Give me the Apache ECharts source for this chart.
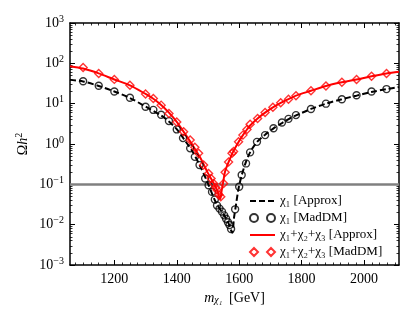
<!DOCTYPE html>
<html>
<head>
<meta charset="utf-8">
<script src="https://cdn.jsdelivr.net/npm/echarts@6/dist/echarts.min.js"></script>
<style>
html, body { margin: 0; padding: 0; background: #fff; }
#chart { width: 415px; height: 323px; }
</style>
</head>
<body>
<div id="chart"></div>
<script>
// chi1 only, approximate calculation (dashed black)
var blackApproxX = [1058, 1100, 1150, 1200, 1250, 1300, 1350, 1375, 1400, 1425, 1450, 1475, 1500, 1525, 1550, 1565, 1578,
    1583, 1590, 1598, 1608, 1620, 1635, 1657, 1683, 1710, 1737, 1760, 1782, 1830, 1878, 1929, 1976, 2024, 2072, 2112];
var blackApproxY = [38.9, 35.5, 27.5, 20.0, 13.8, 8.5, 5.1, 3.6, 2.34, 1.26, 0.66, 0.28, 0.105, 0.036, 0.018, 0.0112, 0.0063,
    0.014, 0.032, 0.079, 0.166, 0.33, 0.62, 1.12, 1.7, 2.45, 3.3, 4.2, 5.1, 7.4, 10, 12.9, 15.8, 19.5, 22.9, 25.7];

// chi1 only, MadDM (open circles)
var blackMadX = [1100, 1150, 1200, 1250, 1300, 1325, 1350, 1375, 1400, 1420, 1443, 1458, 1473, 1491, 1502, 1513, 1522, 1529,
    1537, 1545, 1552, 1558, 1564, 1569, 1574, 1587, 1600, 1608, 1622, 1635, 1657, 1683, 1710, 1737, 1758, 1782, 1830, 1878,
    1929, 1976, 2024, 2072];
var blackMadY = [36, 27.9, 20, 14, 8.4, 7.0, 5.3, 3.7, 2.3, 1.4, 0.78, 0.48, 0.30, 0.14, 0.095, 0.065, 0.042, 0.030,
    0.025, 0.021, 0.017, 0.014, 0.0115, 0.0098, 0.0078, 0.024, 0.087, 0.17, 0.33, 0.62, 1.13, 1.66, 2.45, 3.4, 4.2, 5.2, 7.4, 10,
    12.9, 16.2, 20, 23];

// chi1+chi2+chi3, approximate calculation (solid red)
var redApproxX = [1058, 1100, 1150, 1200, 1250, 1300, 1325, 1350, 1375, 1400, 1425, 1450, 1475, 1500, 1520, 1530, 1539,
    1544, 1548, 1555, 1566, 1580, 1598, 1612, 1625, 1635, 1659, 1683, 1708, 1733, 1758, 1782, 1830, 1878, 1929, 1976, 2024,
    2072, 2112];
var redApproxY = [85.1, 74.1, 56.2, 39.8, 28.5, 17.4, 13.2, 9.3, 6.0, 3.55, 1.86, 0.95, 0.46, 0.19, 0.1, 0.069, 0.043,
    0.071, 0.105, 0.21, 0.355, 0.63, 1.12, 1.66, 2.29, 2.88, 4.3, 6.0, 8.1, 10.5, 12.9, 15.8, 20.9, 27.5, 33.9, 39.8, 47.9,
    56.2, 61.7];

// chi1+chi2+chi3, MadDM (open diamonds)
var redMadX = [1100, 1150, 1200, 1250, 1300, 1325, 1350, 1375, 1400, 1422, 1443, 1458, 1470, 1486, 1502, 1510, 1518, 1525,
    1529, 1535, 1541, 1550, 1555, 1566, 1577, 1582, 1598, 1612, 1625, 1635, 1659, 1683, 1708, 1733, 1758, 1782, 1830, 1878,
    1929, 1976, 2024, 2072];
var redMadY = [79, 56, 40, 28.5, 17.4, 13.5, 9.2, 5.7, 3.5, 2.0, 1.26, 0.83, 0.59, 0.30, 0.186, 0.14, 0.105, 0.083,
    0.072, 0.055, 0.049, 0.105, 0.2, 0.36, 0.59, 0.65, 1.13, 1.66, 2.29, 3.1, 4.3, 6.0, 8.1, 10.5, 12.9, 15.8, 20.9, 27.5,
    33.9, 39.8, 47.9, 56.2];

var relicValue = 0.1;
var xTickLabels = [1200, 1400, 1600, 1800, 2000];
var yExponents = [-3, -2, -1, 0, 1, 2, 3];

var legendNames = ['χ₁ [Approx]', 'χ₁ [MadDM]', 'χ₁+χ₂+χ₃ [Approx]', 'χ₁+χ₂+χ₃ [MadDM]'];

function pairs(xs, ys) {
    return xs.map(function (x, i) { return [x, ys[i]]; });
}

// minor tick positions
var xMinor = [];
for (var v = 1075; v <= 2100; v += 25) {
    if (v % 200 !== 0) xMinor.push(v);
}
var yMinor = [];
for (var k = -3; k < 3; k++) {
    for (var m = 2; m <= 9; m++) yMinor.push(k + Math.log10(m));
}

var FONT = 'Liberation Serif';
var XMIN = 1058, XMAX = 2112;

function supLabel(v) {
    var e = Math.round(v);
    return '{b|10}{s|' + (e < 0 ? '\u2212' + (-e) : e) + '}';
}

function xAx(opt) {
    return Object.assign({
        type: 'value', min: XMIN, max: XMAX,
        axisLine: { show: false, onZero: false },
        axisLabel: { show: false },
        splitLine: { show: false },
        axisTick: { show: false }
    }, opt);
}
function yAx(opt) {
    return Object.assign({
        type: 'value', min: -3, max: 3,
        axisLine: { show: false, onZero: false },
        axisLabel: { show: false },
        splitLine: { show: false },
        axisTick: { show: false }
    }, opt);
}

var chart = echarts.init(document.getElementById('chart'), null, { renderer: 'canvas' });

var option = {
    backgroundColor: '#fff',
    animation: false,
    textStyle: { fontFamily: FONT, color: '#000' },
    grid: { left: 70, right: 16, top: 23, bottom: 58, outerBoundsMode: 'none', show: false },
    xAxis: [
        xAx({
            position: 'bottom',
            axisLine: { show: true, onZero: false, lineStyle: { color: '#000', width: 1.5 } },
            axisTick: { show: true, inside: true, length: 5, customValues: xTickLabels, lineStyle: { color: '#000', width: 1 } },
            axisLabel: {
                show: true, customValues: xTickLabels, margin: 7, fontSize: 14, fontFamily: FONT, color: '#000',
                formatter: function (val) { return String(val); }
            },
            name: '{i|m}{sub|χ₁}  [GeV]',
            nameLocation: 'middle',
            nameGap: 26,
            nameMoveOverlap: false,
            nameTextStyle: {
                fontFamily: FONT, fontSize: 14, color: '#000',
                rich: {
                    i: { fontFamily: FONT, fontStyle: 'italic', fontSize: 14 },
                    sub: { fontFamily: FONT, fontStyle: 'italic', fontSize: 10, verticalAlign: 'bottom' }
                }
            }
        }),
        xAx({ position: 'bottom', axisTick: { show: true, inside: true, length: 2.5, customValues: xMinor, lineStyle: { color: '#000', width: 0.8 } } }),
        xAx({
            position: 'top',
            axisLine: { show: true, onZero: false, lineStyle: { color: '#000', width: 1.5 } },
            axisTick: { show: true, inside: true, length: 5, customValues: xTickLabels, lineStyle: { color: '#000', width: 1 } }
        }),
        xAx({ position: 'top', axisTick: { show: true, inside: true, length: 2.5, customValues: xMinor, lineStyle: { color: '#000', width: 0.8 } } })
    ],
    yAxis: [
        {
            type: 'log', min: 0.001, max: 1000, logBase: 10,
            position: 'left',
            axisLine: { show: false, onZero: false },
            axisLabel: { show: false },
            axisTick: { show: false },
            splitLine: { show: false }
        },
        yAx({
            position: 'left',
            axisLine: { show: true, onZero: false, lineStyle: { color: '#000', width: 1.5 } },
            axisTick: { show: true, inside: true, length: 5, customValues: yExponents, lineStyle: { color: '#000', width: 1 } },
            axisLabel: {
                show: true, customValues: yExponents, margin: 6, formatter: supLabel,
                rich: {
                    b: { fontFamily: FONT, fontSize: 14, color: '#000', lineHeight: 18 },
                    s: { fontFamily: FONT, fontSize: 10, color: '#000', verticalAlign: 'top' }
                }
            },
            name: 'Ω{i|h}{s|2}',
            nameLocation: 'middle',
            nameGap: 38,
            nameMoveOverlap: false,
            nameTextStyle: {
                fontFamily: FONT, fontSize: 14, color: '#000', lineHeight: 18,
                rich: {
                    i: { fontFamily: FONT, fontStyle: 'italic', fontSize: 14, lineHeight: 18 },
                    s: { fontFamily: FONT, fontSize: 10, verticalAlign: 'top' }
                }
            }
        }),
        yAx({ position: 'left', axisTick: { show: true, inside: true, length: 2.5, customValues: yMinor, lineStyle: { color: '#000', width: 0.8 } } }),
        yAx({
            position: 'right',
            axisLine: { show: true, onZero: false, lineStyle: { color: '#000', width: 1.5 } },
            axisTick: { show: true, inside: true, length: 5, customValues: yExponents, lineStyle: { color: '#000', width: 1 } }
        }),
        yAx({ position: 'right', axisTick: { show: true, inside: true, length: 2.5, customValues: yMinor, lineStyle: { color: '#000', width: 0.8 } } })
    ],
    legend: {
        orient: 'vertical',
        left: 249,
        top: 193,
        padding: 0,
        itemWidth: 25,
        itemHeight: 8,
        itemGap: 1,
        selectedMode: false,
        textStyle: { fontFamily: FONT, fontSize: 13, color: '#000', lineHeight: 16 },
        data: [
            { name: legendNames[0], itemStyle: { opacity: 0 } },
            { name: legendNames[1], icon: 'path://M0,4a4,4 0 1,0 8,0a4,4 0 1,0 -8,0M17,4a4,4 0 1,0 8,0a4,4 0 1,0 -8,0' },
            { name: legendNames[2], itemStyle: { opacity: 0 } },
            { name: legendNames[3], icon: 'path://M4,0L8,4L4,8L0,4ZM21,0L25,4L21,8L17,4Z' }
        ]
    },
    series: [
        {
            name: legendNames[0],
            type: 'line',
            xAxisIndex: 0, yAxisIndex: 0,
            data: pairs(blackApproxX, blackApproxY),
            symbol: 'none',
            smooth: 0.3,
            lineStyle: { color: '#000', width: 2, type: [6, 3] },
            itemStyle: { color: '#000' },
            z: 3,
            markLine: {
                silent: true,
                symbol: 'none',
                label: { show: false },
                lineStyle: { color: '#808080', width: 2.5, type: 'solid' },
                data: [{ yAxis: relicValue }],
                z: 1
            }
        },
        {
            name: legendNames[1],
            type: 'scatter',
            xAxisIndex: 0, yAxisIndex: 0,
            data: pairs(blackMadX, blackMadY),
            symbol: 'circle',
            symbolSize: 7,
            itemStyle: { color: 'rgba(255,255,255,0)', borderColor: '#000', borderWidth: 1.4 },
            z: 4
        },
        {
            name: legendNames[2],
            type: 'line',
            xAxisIndex: 0, yAxisIndex: 0,
            data: pairs(redApproxX, redApproxY),
            symbol: 'none',
            smooth: 0.3,
            lineStyle: { color: '#ff0000', width: 2 },
            itemStyle: { color: '#ff0000' },
            z: 3
        },
        {
            name: legendNames[3],
            type: 'scatter',
            xAxisIndex: 0, yAxisIndex: 0,
            data: pairs(redMadX, redMadY),
            symbol: 'diamond',
            symbolSize: 8,
            itemStyle: { color: 'rgba(255,255,255,0)', borderColor: '#ff0000', borderWidth: 1.4 },
            z: 4
        }
    ]
};

chart.setOption(option);
</script>
</body>
</html>
